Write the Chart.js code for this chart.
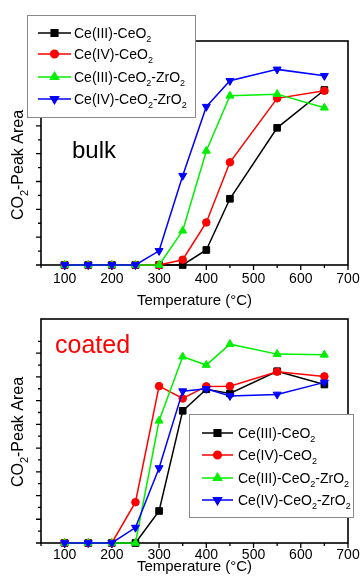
<!DOCTYPE html>
<html>
<head>
<meta charset="utf-8">
<script src="https://cdn.jsdelivr.net/npm/chart.js@4"></script>
<style>
html, body { margin: 0; padding: 0; background: #fff; }
#wrap { position: relative; width: 360px; height: 588px; }
canvas { position: absolute; left: 0; }
</style>
</head>
<body>
<div id="wrap">
  <canvas id="bulk" width="360" height="312" style="top:0"></canvas>
  <canvas id="coated" width="360" height="276" style="top:312px"></canvas>
</div>
<script>
// temperatures (°C) and x tick labels
const temps = [100, 150, 200, 250, 300, 350, 400, 450, 550, 650]
const xLabels = [100, 200, 300, 400, 500, 600, 700]
const seriesNames = ['Ce(III)-CeO2', 'Ce(IV)-CeO2', 'Ce(III)-CeO2-ZrO2', 'Ce(IV)-CeO2-ZrO2']

// bulk panel (arbitrary units)
const bulkCe3 = [0, 0, 0, 0, 0, 0, 0.54, 2.38, 4.93, 6.29]
const bulkCe4 = [0, 0, 0, 0, 0, 0.19, 1.53, 3.69, 5.99, 6.26]
const bulkCe3Zr = [0, 0, 0, 0, 0, 1.23, 4.10, 6.08, 6.14, 5.65]
const bulkCe4Zr = [0, 0, 0, 0, 0.51, 3.21, 5.69, 6.62, 7.03, 6.80]

// coated panel (arbitrary units)
const coatCe3 = [0, 0, 0, 0, 1.35, 5.57, 6.48, 6.30, 7.24, 6.68]
const coatCe4 = [0, 0, 0, 1.72, 6.61, 6.09, 6.60, 6.61, 7.22, 7.02]
const coatCe3Zr = [0, 0, 0, 0, 5.15, 7.85, 7.50, 8.38, 7.96, 7.93]
const coatCe4Zr = [0, 0, 0, 0.65, 3.16, 6.40, 6.50, 6.20, 6.26, 6.77]

const FONT = '"Liberation Sans", Arial, sans-serif'
const colors = ['#000000', '#ff0000', '#00f000', '#0000ff']
const pointStyles = ['rect', 'circle', 'triangle', 'triangle']
const rotations = [0, 0, 0, 180]
const radii = [4.7, 3.8, 4.6, 4.6]

function buildDatasets(values) {
  return values.map((v, i) => ({
    label: seriesNames[i],
    data: temps.map((t, j) => ({ x: t, y: v[j] })),
    borderColor: colors[i],
    backgroundColor: colors[i],
    pointStyle: pointStyles[i],
    pointRotation: rotations[i],
    pointRadius: radii[i],
    pointBorderWidth: 1,
    borderWidth: 1.5,
    tension: 0,
    order: 3 - i,
    clip: false
  }))
}

// draws text, digits right after a letter become subscripts
function richText(ctx, str, x, y, size, align) {
  const parts = str.split(/(?<=[A-Za-z])(\d)/)
  const big = size + 'px ' + FONT
  const small = Math.round(size * 0.66) + 'px ' + FONT
  let w = 0
  parts.forEach((p, i) => { ctx.font = i % 2 ? small : big; w += ctx.measureText(p).width })
  let cx = align === 'center' ? x - w / 2 : x
  ctx.textAlign = 'left'
  ctx.textBaseline = 'alphabetic'
  parts.forEach((p, i) => {
    ctx.font = i % 2 ? small : big
    ctx.fillText(p, cx, i % 2 ? y + size * 0.3 : y)
    cx += ctx.measureText(p).width
  })
}

const framePlugin = {
  id: 'frame',
  beforeDatasetsDraw(chart) {
    const { ctx, chartArea: a } = chart
    const xs = chart.scales.x, ys = chart.scales.y
    ctx.save()
    ctx.strokeStyle = '#000'
    ctx.lineWidth = 1.6
    ctx.strokeRect(a.left, a.top, a.right - a.left, a.bottom - a.top)
    ctx.lineWidth = 1.3
    ctx.beginPath()
    xs.ticks.forEach(t => {
      const px = xs.getPixelForValue(t.value)
      const len = t.value % 100 === 0 ? 5 : 3
      ctx.moveTo(px, a.bottom); ctx.lineTo(px, a.bottom + len)
    })
    ys.ticks.forEach(t => {
      if (Math.abs(t.value * 2 - Math.round(t.value * 2)) > 0.01) return
      const py = ys.getPixelForValue(t.value)
      const len = Math.abs(t.value - Math.round(t.value)) < 0.01 ? 5 : 3
      ctx.moveTo(a.left, py); ctx.lineTo(a.left - len, py)
    })
    ctx.stroke()
    ctx.restore()
  },
  afterDraw(chart, args, o) {
    const ctx = chart.ctx
    ctx.save()
    // y title
    ctx.fillStyle = '#000'
    ctx.translate(17.5, o.yTitleY)
    ctx.rotate(-Math.PI / 2)
    richText(ctx, 'CO2-Peak Area', 0, 5.5, 16, 'center')
    ctx.restore()

    // panel tag
    ctx.save()
    ctx.fillStyle = o.tag.color
    ctx.font = o.tag.size + 'px ' + FONT
    ctx.textAlign = 'left'
    ctx.textBaseline = 'alphabetic'
    ctx.fillText(o.tag.text, o.tag.x, o.tag.y)
    ctx.restore()

    // legend
    const b = o.box
    ctx.save()
    ctx.fillStyle = '#fff'
    ctx.fillRect(b[0], b[1], b[2], b[3])
    ctx.strokeStyle = '#8a8a8a'
    ctx.lineWidth = 1
    ctx.strokeRect(b[0] + 0.5, b[1] + 0.5, b[2], b[3])
    chart.data.datasets.forEach((ds, i) => {
      const ry = o.rows[i]
      ctx.strokeStyle = ds.borderColor
      ctx.lineWidth = 1.5
      ctx.beginPath()
      ctx.moveTo(o.lineX[0], ry); ctx.lineTo(o.lineX[1], ry)
      ctx.stroke()
      ctx.fillStyle = ds.backgroundColor
      Chart.helpers.drawPoint(ctx, {
        pointStyle: ds.pointStyle, rotation: ds.pointRotation,
        radius: ds.pointRadius, borderWidth: 1
      }, (o.lineX[0] + o.lineX[1]) / 2, ry)
      ctx.fillStyle = '#000'
      richText(ctx, ds.label, o.textX, ry + 5, 14, 'left')
    })
    ctx.restore()
  }
}

function makeChart(id, values, cfg) {
  return new Chart(document.getElementById(id), {
    type: 'line',
    data: { datasets: buildDatasets(values) },
    plugins: [framePlugin],
    options: {
      responsive: false,
      animation: false,
      events: [],
      layout: { padding: { top: cfg.top, left: 41, right: 12, bottom: 0 } },
      plugins: {
        legend: { display: false },
        tooltip: { enabled: false },
        frame: cfg.frame
      },
      scales: {
        x: {
          type: 'linear', min: 50, max: 700,
          ticks: {
            stepSize: 50, autoSkip: false, maxRotation: 0, padding: cfg.tickPad,
            color: '#000', font: { family: FONT, size: 14 },
            callback: v => xLabels.includes(v) ? String(v) : ''
          },
          grid: { display: false, drawTicks: false },
          border: { display: false },
          title: {
            display: true, text: 'Temperature (°C)', color: '#000',
            font: { family: FONT, size: 15 }, padding: { top: 0, bottom: cfg.titlePad }
          },
          afterFit: s => { s.height = cfg.xHeight; s.paddingLeft = 0; s.paddingRight = 0 }
        },
        y: {
          min: 0, max: cfg.yMax,
          ticks: { display: false, stepSize: 0.5 },
          grid: { display: false, drawTicks: false },
          border: { display: false },
          afterFit: s => { s.width = 0; s.paddingTop = 0; s.paddingBottom = 0 }
        }
      }
    }
  })
}

makeChart('bulk', [bulkCe3, bulkCe4, bulkCe3Zr, bulkCe4Zr], {
  top: 41, yMax: 8.05, xHeight: 47, tickPad: 6, titlePad: 2,
  frame: {
    yTitleY: 165,
    tag: { text: 'bulk', x: 72, y: 158, size: 24, color: '#000' },
    box: [27, 15, 168, 102],
    rows: [33, 54, 77, 99],
    lineX: [38, 71],
    textX: 74
  }
})

makeChart('coated', [coatCe3, coatCe4, coatCe3Zr, coatCe4Zr], {
  top: 7, yMax: 9.44, xHeight: 45, tickPad: 4, titlePad: 12,
  frame: {
    yTitleY: 120,
    tag: { text: 'coated', x: 55, y: 41, size: 25, color: '#ff0000' },
    box: [189, 102, 164, 103],
    rows: [121, 143, 166, 188],
    lineX: [202, 233],
    textX: 238
  }
})
</script>
</body>
</html>
